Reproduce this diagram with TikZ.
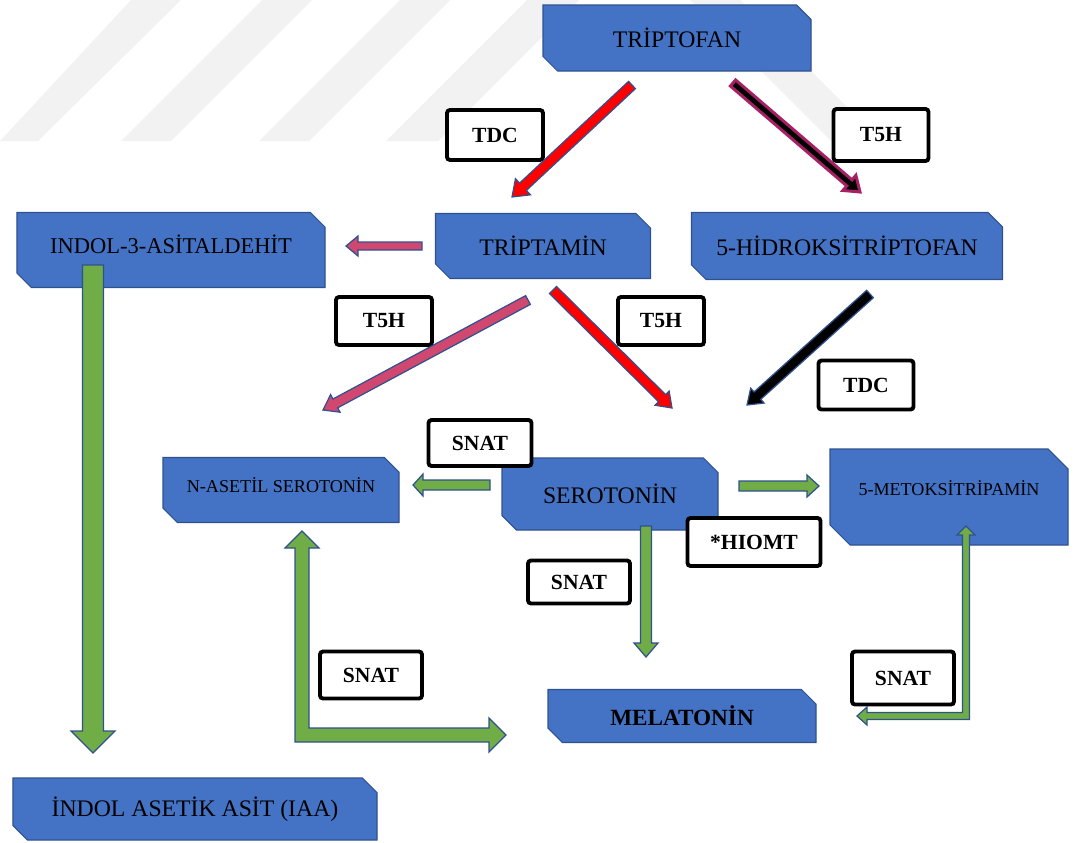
\documentclass[tikz,border=0pt]{standalone}
\usepackage{fontspec}
\setmainfont{Liberation Serif}
\usetikzlibrary{calc}
\usetikzlibrary{shapes.misc}
\definecolor{boxblue}{RGB}{68,114,196}
\definecolor{boxline}{RGB}{47,82,143}
\definecolor{leaf}{RGB}{112,173,71}
\definecolor{rose}{RGB}{208,72,112}
\definecolor{plum}{RGB}{168,32,100}
\definecolor{wmgrey}{RGB}{242,242,242}
\tikzset{
  compound/.style={chamfered rectangle, chamfered rectangle corners={north east,south west},
    chamfered rectangle sep=1.45mm, fill=boxblue, draw=boxline, line width=0.6pt,
    inner sep=0pt, font=\fontsize{13.5}{16}\selectfont},
  smallcompound/.style={compound, font=\fontsize{10.3}{12}\selectfont},
  enzyme/.style={rectangle, rounded corners=0.6mm, draw=black, fill=white,
    line width=2.2pt, inner sep=0pt, font=\fontsize{12.3}{14}\selectfont\bfseries},
  blockarrow/.style={draw=boxline, line width=0.7pt, line join=miter},
}
% block arrow: [style] tail, tip, half shaft, half head, head length
\newcommand{\blockarrow}[6][]{%
  \coordinate (ba-neck) at ($(#3)!#6!(#2)$);
  \path[blockarrow,#1] ($(#2)!#4!90:(#3)$) -- ($(ba-neck)!#4!-90:(#2)$)
    -- ($(ba-neck)!#5!-90:(#2)$) -- (#3) -- ($(ba-neck)!#5!90:(#2)$)
    -- ($(ba-neck)!#4!90:(#2)$) -- ($(#2)!#4!-90:(#3)$) -- cycle;}

\begin{document}
\begin{tikzpicture}[x=0.2mm, y=-0.2mm]
    \path [use as bounding box] (0,0) rectangle (1077,842);
    % watermark stripes
    \fill [wmgrey] (0,141) -- (38,141) -- (181,0) -- (131,0) -- cycle;
    \fill [wmgrey] (121,141) -- (171,141) -- (312,0) -- (262,0) -- cycle;
    \fill [wmgrey] (259,141) -- (309,141) -- (450,0) -- (400,0) -- cycle;
    \fill [wmgrey] (386,141) -- (438,141) -- (579,0) -- (527,0) -- cycle;
    \fill [wmgrey] (690,0) -- (740,0) -- (881,141) -- (831,141) -- cycle;

    % compounds
    \node (trp) [compound, minimum width=53.6mm, minimum height=13.2mm] at (677,38) {TRİPTOFAN};
    \node (ial) [compound, font=\fontsize{12.8}{15}\selectfont, text depth=2.4mm, minimum width=61.6mm, minimum height=15mm] at (171,250) {INDOL-3-ASİTALDEHİT};
    \node (trm) [compound, minimum width=43mm, minimum height=13mm] at (543,246) {TRİPTAMİN};
    \node (htp) [compound, minimum width=62.2mm, minimum height=13.4mm] at (847,246) {5-HİDROKSİTRİPTOFAN};
    \node (nas) [smallcompound, text depth=2mm, minimum width=47.2mm, minimum height=13mm] at (281,490) {N-ASETİL SEROTONİN};
    \node (ser) [compound, minimum width=43.2mm, minimum height=14.4mm] at (610,494) {SEROTONİN};
    \node (mtr) [smallcompound, chamfered rectangle sep=2mm, text depth=3.6mm, minimum width=47.6mm, minimum height=19.2mm] at (949,497) {5-METOKSİTRİPAMİN};
    \node (mel) [compound, font=\fontsize{13.2}{16}\selectfont\bfseries, minimum width=53.6mm, minimum height=10.6mm] at (682,716) {MELATONİN};
    \node (iaa) [compound, minimum width=72.8mm, minimum height=12.4mm] at (195,809) {İNDOL ASETİK ASİT (IAA)};

    % enzymes
    \node (tdcA) [enzyme, minimum width=19.2mm, minimum height=10mm] at (495,135) {TDC};
    \node (t5hA) [enzyme, minimum width=19mm, minimum height=10.4mm] at (881,135) {T5H};
    \node (t5hB) [enzyme, minimum width=19.2mm, minimum height=9.6mm] at (384,321) {T5H};
    \node (t5hC) [enzyme, minimum width=17.2mm, minimum height=9.6mm] at (661,321) {T5H};
    \node (tdcB) [enzyme, minimum width=19mm, minimum height=9.8mm] at (866,385) {TDC};
    \node (snatA) [enzyme, minimum width=20.6mm, minimum height=9.2mm] at (480,443) {SNAT};
    \node (hiomt) [enzyme, minimum width=26.6mm, minimum height=9.6mm] at (754,542) {*HIOMT};
    \node (snatB) [enzyme, minimum width=20.4mm, minimum height=8.6mm] at (579,582) {SNAT};
    \node (snatC) [enzyme, minimum width=20.4mm, minimum height=9.4mm] at (371,675) {SNAT};
    \node (snatD) [enzyme, minimum width=20.4mm, minimum height=10.6mm] at (903,678) {SNAT};

    % arrow ends
    \coordinate (trpL) at (632,85);   \coordinate (trmIn) at (512,197);
    \coordinate (trpR) at (733,83);   \coordinate (htpIn) at (860,192);
    \coordinate (trmL) at (422,246);  \coordinate (ialIn) at (346,246);
    \coordinate (trmA) at (528,300);  \coordinate (nasIn) at (323,410);
    \coordinate (trmB) at (553,290);  \coordinate (serInL) at (672,408);
    \coordinate (htpB) at (870,294);  \coordinate (serInR) at (747,405);
    \coordinate (serL) at (490,485);  \coordinate (nasInR) at (413,485);
    \coordinate (serR) at (739,486);  \coordinate (mtrIn) at (819,486);
    \coordinate (serB) at (646,526);  \coordinate (melIn) at (646,657);
    \coordinate (ialB) at (93,265);   \coordinate (iaaIn) at (93,753);
    \coordinate (nasUp) at (302,531); \coordinate (mtrUp) at (966,526);

    % arrows
    \blockarrow[fill=red]{trpL}{trmIn}{1mm}{2.2mm}{3mm}
    \blockarrow[fill=black, draw=plum, line width=1.7pt]{trpR}{htpIn}{0.8mm}{2mm}{2.8mm}
    \blockarrow[fill=rose]{trmL}{ialIn}{0.8mm}{2mm}{2.4mm}
    \blockarrow[fill=rose]{trmA}{nasIn}{1mm}{2mm}{2.8mm}
    \blockarrow[fill=red]{trmB}{serInL}{1mm}{2mm}{2.8mm}
    \blockarrow[fill=black]{htpB}{serInR}{1mm}{2mm}{2.8mm}
    \blockarrow[fill=leaf]{serL}{nasInR}{1mm}{2.2mm}{2mm}
    \blockarrow[fill=leaf]{serR}{mtrIn}{1mm}{2.2mm}{2.4mm}
    \blockarrow[fill=leaf]{serB}{melIn}{1.1mm}{2.4mm}{2.8mm}
    \blockarrow[fill=leaf]{ialB}{iaaIn}{2.1mm}{4.4mm}{4.4mm}
    \path [blockarrow, fill=leaf] (nasUp) -- ++(17,17) -- ++(-10,0) -- ++(0,180) -- ++(180,0)
        -- ++(0,-10) -- ++(17,17) -- ++(-17,17) -- ++(0,-10) -- ++(-194,0) -- ++(0,-194)
        -- ++(-10,0) -- cycle;
    \path [blockarrow, fill=leaf] (mtrUp) -- ++(9,9) -- ++(-5.5,0) -- ++(0,184.5) -- ++(-102.5,0)
        -- ++(0,5.5) -- ++(-10,-9) -- ++(10,-9) -- ++(0,5.5) -- ++(95.5,0) -- ++(0,-177.5)
        -- ++(-5.5,0) -- cycle;
\end{tikzpicture}
\end{document}
